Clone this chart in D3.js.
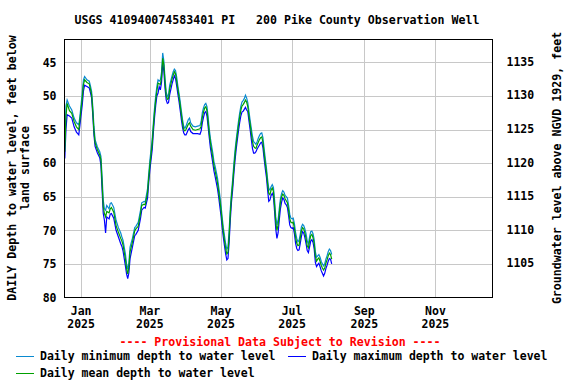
<!DOCTYPE html>
<html><head><meta charset="utf-8">
<script src="https://cdn.jsdelivr.net/npm/d3@7"></script>
<style>
html,body{margin:0;padding:0;background:#fff;}
svg text{font-family:"DejaVu Sans Mono",monospace;font-weight:bold;white-space:pre;}
</style></head>
<body><svg id="c" width="576" height="384"></svg>
<script>
const titleText = "USGS 410940074583401 PI   200 Pike County Observation Well";
const leftTitle = ["DAILY Depth to water level, feet below", "land surface"];
const rightTitle = "Groundwater level above NGVD 1929, feet";
const provisional = "---- Provisional Data Subject to Revision ----";
const legendLabels = ["Daily minimum depth to water level", "Daily maximum depth to water level", "Daily mean depth to water level"];
const seriesColors = ["#0a8ad0", "#0000ff", "#00a000"];

const xTickDates = ["2025-01-01","2025-03-01","2025-05-01","2025-07-01","2025-09-01","2025-11-01"];
const xTickMonths = ["Jan","Mar","May","Jul","Sep","Nov"];
const xTickYears = ["2025","2025","2025","2025","2025","2025"];
const depthTicks = [45,50,55,60,65,70,75,80];
const elevTicks = [1105,1110,1115,1120,1125,1130,1135];
const datumElev = 1179.9;

const dates = [
"2024-12-18","2024-12-19","2024-12-20","2024-12-22","2024-12-24","2024-12-26","2024-12-28","2024-12-30","2024-12-31",
"2025-01-02","2025-01-03","2025-01-04","2025-01-06","2025-01-08","2025-01-09","2025-01-10","2025-01-11","2025-01-12","2025-01-13",
"2025-01-15","2025-01-17","2025-01-18","2025-01-19","2025-01-20","2025-01-21","2025-01-22","2025-01-23","2025-01-25","2025-01-26",
"2025-01-27","2025-01-29","2025-01-31","2025-02-02","2025-02-04","2025-02-05","2025-02-06","2025-02-08","2025-02-09","2025-02-10",
"2025-02-11","2025-02-12","2025-02-14","2025-02-16","2025-02-17","2025-02-19","2025-02-21","2025-02-22","2025-02-24","2025-02-25",
"2025-02-27","2025-02-28","2025-03-01","2025-03-03","2025-03-04","2025-03-05","2025-03-06","2025-03-07","2025-03-08","2025-03-09",
"2025-03-10","2025-03-11","2025-03-12","2025-03-13","2025-03-14","2025-03-15","2025-03-16","2025-03-17","2025-03-18","2025-03-20",
"2025-03-21","2025-03-22","2025-03-23","2025-03-24","2025-03-25","2025-03-26","2025-03-27","2025-03-28","2025-03-29","2025-03-30",
"2025-03-31","2025-04-01","2025-04-02","2025-04-03","2025-04-04","2025-04-05","2025-04-07","2025-04-09","2025-04-11","2025-04-13",
"2025-04-14","2025-04-15","2025-04-16","2025-04-17","2025-04-18","2025-04-19","2025-04-20","2025-04-21","2025-04-22","2025-04-24",
"2025-04-25","2025-04-26","2025-04-28","2025-04-29","2025-04-30","2025-05-01","2025-05-02","2025-05-03","2025-05-04","2025-05-05",
"2025-05-06","2025-05-07","2025-05-08","2025-05-09","2025-05-10","2025-05-11","2025-05-12","2025-05-13","2025-05-14","2025-05-15",
"2025-05-16","2025-05-17","2025-05-18","2025-05-19","2025-05-20","2025-05-21","2025-05-22","2025-05-23","2025-05-24","2025-05-25",
"2025-05-26","2025-05-27","2025-05-28","2025-05-29","2025-05-30","2025-05-31","2025-06-01","2025-06-02","2025-06-03","2025-06-04",
"2025-06-05","2025-06-06","2025-06-07","2025-06-08","2025-06-09","2025-06-10","2025-06-11","2025-06-12","2025-06-13","2025-06-14",
"2025-06-15","2025-06-16","2025-06-17","2025-06-18","2025-06-19","2025-06-20","2025-06-21","2025-06-22","2025-06-23","2025-06-24",
"2025-06-25","2025-06-26","2025-06-27","2025-06-28","2025-06-29","2025-06-30","2025-07-01","2025-07-02","2025-07-03","2025-07-04",
"2025-07-05","2025-07-06","2025-07-07","2025-07-08","2025-07-09","2025-07-10","2025-07-11","2025-07-12","2025-07-13","2025-07-14",
"2025-07-15","2025-07-16","2025-07-17","2025-07-18","2025-07-19","2025-07-20","2025-07-21","2025-07-22","2025-07-23","2025-07-24",
"2025-07-25","2025-07-26","2025-07-27","2025-07-28","2025-07-29","2025-07-30","2025-07-31","2025-08-01","2025-08-02","2025-08-03",
"2025-08-04"];

const minDepth = [
57.5,51.5,50.6,51.5,52.1,53.3,54.0,54.3,53.0,
49.5,47.6,47.1,47.6,47.8,48.5,49.3,51.5,54.5,56.5,
57.6,58.3,59.0,62.0,65.5,66.8,67.0,66.3,66.8,66.0,
65.9,66.6,68.5,69.6,70.4,71.0,71.5,73.5,75.0,75.8,
74.8,72.5,71.2,69.6,69.4,68.8,67.0,65.9,65.7,65.8,
63.8,61.6,59.6,56.4,54.0,51.8,50.0,48.6,47.6,47.8,
47.6,46.5,43.6,44.8,47.4,49.4,50.1,49.8,48.4,47.0,
46.4,46.0,46.2,47.2,48.5,49.6,50.8,52.2,53.5,54.5,
54.8,54.5,54.0,53.5,53.3,54.0,54.5,54.6,54.5,54.4,
53.8,52.5,51.8,51.3,51.1,51.6,53.2,55.0,56.4,58.5,
59.8,60.5,62.2,63.5,64.8,66.2,68.0,69.6,70.8,72.0,
72.8,72.5,70.0,66.8,64.4,62.5,60.2,58.2,56.6,55.2,
53.8,52.6,51.6,50.9,50.7,50.4,49.9,50.3,51.0,52.3,
53.6,54.8,56.0,56.8,57.0,57.2,56.8,56.3,55.9,55.6,
55.5,56.2,57.8,59.3,60.7,62.4,63.8,64.0,63.5,63.2,
63.6,65.5,68.0,69.2,68.5,66.8,65.3,64.5,64.1,64.3,
64.8,65.0,65.2,66.3,67.6,68.2,68.3,68.2,69.0,70.3,
71.2,71.7,71.5,70.6,69.5,69.1,69.3,69.8,70.5,71.6,
72.0,71.0,70.2,70.1,70.5,71.4,73.2,74.0,73.8,73.6,
74.0,74.6,75.0,75.3,75.0,74.3,73.8,73.2,72.8,73.0,
73.6];

const meanDepth = [
58.3,53.0,51.1,52.2,52.6,53.8,54.6,55.0,53.5,
50.3,48.3,47.6,48.0,48.2,49.0,49.8,52.2,55.2,57.0,
58.0,58.8,59.5,63.0,66.5,67.5,68.0,67.2,67.4,66.8,
66.6,67.3,69.3,70.3,71.2,71.6,72.2,74.3,75.7,76.5,
75.5,73.2,71.8,70.1,69.8,69.4,67.5,66.3,66.1,66.2,
64.4,62.2,60.3,57.1,54.6,52.4,50.6,49.3,48.1,48.2,
48.3,47.2,44.4,45.4,48.0,50.0,50.5,50.4,49.0,47.5,
46.9,46.4,46.7,47.8,49.0,50.1,51.4,52.8,54.0,55.0,
55.2,55.0,54.6,54.2,54.0,54.5,55.0,55.1,55.0,54.9,
54.5,53.2,52.4,51.8,51.6,52.2,53.9,55.6,57.0,59.2,
60.4,61.2,62.9,64.2,65.5,66.9,68.7,70.2,71.5,72.7,
73.5,73.3,70.8,67.5,65.0,63.2,60.9,58.9,57.2,55.8,
54.4,53.2,52.2,51.5,51.3,51.0,50.6,50.9,51.6,53.0,
54.2,55.5,56.8,57.5,57.7,57.8,57.3,56.9,56.5,56.2,
56.1,56.9,58.5,60.0,61.3,63.1,64.5,64.7,64.0,63.7,
64.2,66.3,68.8,70.0,69.2,67.5,65.9,65.0,64.6,64.8,
65.3,65.6,65.9,67.0,68.3,68.8,68.9,68.8,69.7,71.0,
71.9,72.3,72.2,71.2,70.1,69.6,69.8,70.4,71.2,72.3,
72.6,71.6,70.8,70.6,71.1,72.0,73.9,74.6,74.3,74.1,
74.6,75.2,75.6,75.9,75.6,74.9,74.4,73.8,73.4,73.6,
74.3];

const maxDepth = [
59.3,55.0,52.8,53.0,53.3,54.6,55.4,55.8,54.3,
51.3,49.3,48.4,48.6,48.8,49.5,50.3,52.8,55.8,57.5,
58.5,59.2,60.3,64.0,67.5,68.5,70.4,68.0,68.3,67.6,
67.5,68.2,70.0,71.0,72.0,72.4,73.1,75.3,76.5,77.2,
76.3,74.2,72.5,70.8,70.6,70.0,68.2,67.0,66.6,66.7,
65.2,62.9,61.0,58.0,55.4,53.2,51.4,50.0,49.6,48.6,
49.1,48.0,45.1,46.3,48.9,50.6,51.1,51.0,49.8,48.2,
47.6,47.0,47.4,48.5,49.7,50.8,52.1,53.5,54.7,55.5,
55.8,55.8,55.4,55.0,54.8,55.3,55.6,55.6,55.6,55.7,
55.2,54.0,53.2,52.5,52.3,53.0,54.6,56.3,57.8,60.0,
61.2,62.0,63.8,65.0,66.4,67.8,69.5,71.0,72.3,73.5,
74.4,74.2,71.8,68.5,65.8,64.0,61.7,59.7,58.0,56.6,
55.2,54.0,53.0,52.4,52.3,52.0,51.7,52.1,52.3,53.7,
55.0,56.4,57.8,58.5,58.5,58.3,57.9,57.6,57.3,57.0,
56.9,57.7,59.3,60.8,62.1,64.0,65.7,65.5,64.8,64.5,
65.0,67.2,69.8,71.2,70.4,68.5,66.8,65.8,65.2,65.4,
66.0,66.2,66.6,67.8,69.2,69.6,69.7,69.6,70.5,71.9,
72.7,73.0,72.9,72.0,70.9,70.2,70.4,71.1,72.0,73.0,
73.3,72.5,71.6,71.4,71.8,72.8,74.8,75.4,75.1,74.9,
75.4,76.0,76.4,76.8,76.4,75.7,75.2,74.6,74.2,74.3,
75.0];

const svg = d3.select("#c");
const L = 64.5, R = 492.5, T = 39.5, B = 297.5;
const parse = d3.utcParse("%Y-%m-%d");
const x = d3.scaleUtc()
  .domain([new Date(Date.UTC(2024,11,17,18)), new Date(Date.UTC(2025,11,19,23))])
  .range([L, R]);
const y = d3.scaleLinear().domain([41.6, 80]).range([T, B]);
const y2 = d3.scaleLinear().domain([datumElev - 41.6, datumElev - 80]).range([T, B]);

// grid
const g = svg.append("g");
g.selectAll("line.hg").data(depthTicks.filter(d => d < 80)).join("line")
  .attr("x1", L).attr("x2", R)
  .attr("y1", d => Math.round(y(d)) + 0.5).attr("y2", d => Math.round(y(d)) + 0.5)
  .attr("stroke", "#c8c8c8").attr("stroke-width", 1);
g.selectAll("line.vg").data(xTickDates).join("line")
  .attr("x1", d => Math.round(x(parse(d))) + 0.5).attr("x2", d => Math.round(x(parse(d))) + 0.5)
  .attr("y1", T).attr("y2", B)
  .attr("stroke", "#c8c8c8").attr("stroke-width", 1);

// series
const pts = dates.map((d, i) => ({ date: parse(d), min: minDepth[i], mean: meanDepth[i], max: maxDepth[i] }));
const keys = ["min", "max", "mean"];
keys.forEach((k, i) => {
  const line = d3.line().x(d => x(d.date)).y(d => y(d[k]));
  svg.append("path").datum(pts).attr("d", line)
    .attr("fill", "none").attr("stroke", seriesColors[i]).attr("stroke-width", 1.2);
});

// frame
svg.append("rect").attr("x", L).attr("y", T).attr("width", R - L).attr("height", B - T)
  .attr("fill", "none").attr("stroke", "#000").attr("stroke-width", 1);

// left axis
const leftAxis = d3.axisLeft(y).tickValues(depthTicks).tickSize(0).tickPadding(8).tickFormat(d3.format("d"));
const la = svg.append("g").attr("transform", `translate(${L},0)`).call(leftAxis);
la.select(".domain").remove();
la.selectAll("text").attr("font-size", "11.5px").attr("font-family", "DejaVu Sans Mono").attr("fill", "#000");

const rightAxis = d3.axisRight(y2).tickValues(elevTicks).tickSize(0).tickPadding(14).tickFormat(d3.format("d"));
const ra = svg.append("g").attr("transform", `translate(${R},0)`).call(rightAxis);
ra.select(".domain").remove();
ra.selectAll("text").attr("font-size", "11.5px").attr("font-family", "DejaVu Sans Mono").attr("fill", "#000");

// x labels
const xl = svg.append("g");
xl.selectAll("text.m").data(xTickDates).join("text")
  .attr("x", d => x(parse(d))).attr("y", 315).attr("text-anchor", "middle")
  .attr("font-size", "11.5px").text((d, i) => xTickMonths[i]);
xl.selectAll("text.yr").data(xTickDates).join("text")
  .attr("x", d => x(parse(d))).attr("y", 328).attr("text-anchor", "middle")
  .attr("font-size", "11.5px").text((d, i) => xTickYears[i]);

// title
svg.append("text").attr("x", 277).attr("y", 24).attr("text-anchor", "middle")
  .attr("font-size", "11.6px").text(titleText);

// axis titles
svg.append("text").attr("transform", "translate(16,168) rotate(-90)").attr("text-anchor", "middle")
  .attr("font-size", "11.6px").text(leftTitle[0]);
svg.append("text").attr("transform", "translate(29,168) rotate(-90)").attr("text-anchor", "middle")
  .attr("font-size", "11.6px").text(leftTitle[1]);
svg.append("text").attr("transform", "translate(561,168) rotate(-90)").attr("text-anchor", "middle")
  .attr("font-size", "11.6px").text(rightTitle);

// provisional
svg.append("text").attr("x", 280).attr("y", 346).attr("text-anchor", "middle")
  .attr("font-size", "11.6px").attr("fill", "#ff0000").text(provisional);

// legend
const legPos = [[16, 356], [288, 356], [16, 373]];
legendLabels.forEach((lab, i) => {
  const [lx, ly] = legPos[i];
  svg.append("line").attr("x1", lx).attr("x2", lx + 18).attr("y1", ly + 0.5).attr("y2", ly + 0.5)
    .attr("stroke", seriesColors[i]).attr("stroke-width", 1);
  svg.append("text").attr("x", lx + 24).attr("y", ly + 4).attr("font-size", "11.5px").text(lab);
});
</script></body></html>
